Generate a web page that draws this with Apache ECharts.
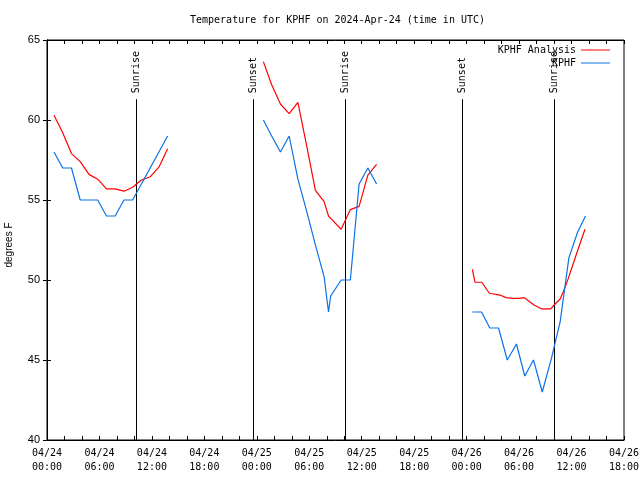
<!DOCTYPE html>
<html>
<head>
<meta charset="utf-8">
<script src="https://cdn.jsdelivr.net/npm/echarts@6/dist/echarts.min.js"></script>
<style>html,body{margin:0;padding:0;background:#fff}#c{width:640px;height:480px}</style>
</head>
<body>
<div id="c"></div>
<script>
// Times are hours since 2024-04-24 00:00 UTC
const obsTimes1 = [0.8,1.8,2.8,3.8,4.8,5.8,6.8,7.8,8.8,9.8,10.8,11.8,12.8,13.8];
const obsTemps1 = [58,57,57,55,55,55,54,54,55,55,56,57,58,59];
const anaTimes1 = [0.8,1.8,2.8,3.8,4.8,5.8,6.8,7.8,8.8,9.8,10.8,11.8,12.8,13.8];
const anaTemps1 = [60.3,59.2,57.9,57.4,56.6,56.3,55.7,55.7,55.55,55.8,56.25,56.45,57.05,58.2];

const obsTimes2 = [24.75,25.7,26.7,27.7,28.7,29.7,30.7,31.7,32.2,32.45,33.65,34.7,35.7,36.7,37.7];
const obsTemps2 = [60,59,58,59,56.3,54.3,52.2,50.2,48,49,50,50,56,57,56];
const anaTimes2 = [24.75,25.7,26.7,27.7,28.7,29.7,30.7,31.7,32.2,32.45,33.65,34.7,35.7,36.7,37.7];
const anaTemps2 = [63.65,62.2,61.0,60.4,61.1,58.4,55.6,54.9,54.0,53.85,53.17,54.4,54.6,56.56,57.23];

const obsTimes3 = [48.65,49.7,50.65,51.65,52.65,53.7,54.65,55.65,56.65,57.7,58.7,59.7,60.7,61.6];
const obsTemps3 = [48,48,47,47,45,46,44,45,43,45.1,47.4,51.4,53,54];
const anaTimes3 = [48.65,48.96,49.73,50.6,51.82,52.5,53.27,54.03,54.6,55.06,55.71,56.59,57.62,58.11,58.68,59.06,59.63,60.59,61.54];
const anaTemps3 = [50.67,49.86,49.86,49.17,49.06,48.9,48.85,48.85,48.9,48.7,48.44,48.19,48.19,48.5,48.8,49.27,50.1,51.67,53.17];

const sunTimes = [10.2, 23.6, 34.1, 47.5, 58.0];
const sunLabels = ['Sunrise', 'Sunset', 'Sunrise', 'Sunset', 'Sunrise'];
const sunLineTop = 61.3;

const xMin = 0, xMax = 66, xStep = 6;
const yMin = 40, yMax = 65, yStep = 5;

function buildSeries(timeArrs, tempArrs) {
  const out = [];
  timeArrs.forEach((ts, k) => {
    if (k > 0) out.push([ts[0] - 0.01, '-']);
    ts.forEach((t, i) => out.push([t, tempArrs[k][i]]));
  });
  return out;
}
const anaData = buildSeries([anaTimes1, anaTimes2, anaTimes3], [anaTemps1, anaTemps2, anaTemps3]);
const obsData = buildSeries([obsTimes1, obsTimes2, obsTimes3], [obsTemps1, obsTemps2, obsTemps3]);

const MONO = 'DejaVu Sans Mono';
const SANS = 'Liberation Sans';
const RED = '#ff0000';
const BLUE = '#0a72e6';

function xLabel(h) {
  const day = 24 + Math.floor(h / 24);
  const hh = Math.round(h % 24);
  return '04/' + day + '\n' + (hh < 10 ? '0' : '') + hh + ':00';
}

const chart = echarts.init(document.getElementById('c'), null, {renderer: 'canvas'});
const tickCommon = {show: true, inside: true, length: 4, lineStyle: {color: '#000', width: 1}};
chart.setOption({
  animation: false,
  backgroundColor: '#fff',
  title: {
    text: 'Temperature for KPHF on 2024-Apr-24 (time in UTC)',
    left: 185, top: 10,
    textStyle: {fontFamily: MONO, fontSize: 10, fontWeight: 'normal', color: '#000'}
  },
  legend: {
    data: [
      {name: 'KPHF Analysis', icon: 'rect', itemStyle: {color: RED}},
      {name: 'KPHF', icon: 'rect', itemStyle: {color: BLUE}}
    ],
    orient: 'vertical', align: 'right',
    right: 30, top: 44, padding: 0,
    itemWidth: 29, itemHeight: 1, itemGap: 1,
    textStyle: {fontFamily: MONO, fontSize: 10, color: '#000', lineHeight: 12}
  },
  grid: {left: 47, right: 16, top: 40, bottom: 40, show: true, borderColor: '#000', borderWidth: 1,
         backgroundColor: 'transparent', containLabel: false, outerBoundsMode: 'none'},
  xAxis: [{
    type: 'value', min: xMin, max: xMax, interval: xStep,
    axisLine: {show: true, lineStyle: {color: '#000'}},
    axisTick: tickCommon,
    minorTick: {show: true, splitNumber: 3, length: 4, lineStyle: {color: '#000', width: 1}},
    splitLine: {show: false},
    axisLabel: {formatter: xLabel, fontFamily: MONO, fontSize: 10, color: '#000', margin: 6, lineHeight: 14}
  }, {
    type: 'value', position: 'top', min: xMin, max: xMax, interval: xStep,
    axisLine: {show: true, lineStyle: {color: '#000'}},
    axisTick: tickCommon,
    minorTick: {show: true, splitNumber: 3, length: 4, lineStyle: {color: '#000', width: 1}},
    splitLine: {show: false},
    axisLabel: {show: false}
  }],
  yAxis: [{
    type: 'value', min: yMin, max: yMax, interval: yStep,
    name: 'degrees F', nameLocation: 'middle', nameGap: 33,
    nameTextStyle: {fontFamily: SANS, fontSize: 10, color: '#000', padding: [0, 10, 0, 0]},
    axisLine: {show: true, lineStyle: {color: '#000'}},
    axisTick: tickCommon,
    splitLine: {show: false},
    axisLabel: {fontFamily: SANS, fontSize: 11, color: '#000', margin: 7}
  }, {
    type: 'value', position: 'right', min: yMin, max: yMax, interval: yStep,
    axisLine: {show: true, lineStyle: {color: '#000'}},
    axisTick: tickCommon,
    splitLine: {show: false},
    axisLabel: {show: false}
  }],
  series: [{
    name: 'KPHF Analysis', type: 'line', data: anaData, symbol: 'none',
    connectNulls: false,
    lineStyle: {color: RED, width: 1.2}, itemStyle: {color: RED}
  }, {
    name: 'KPHF', type: 'line', data: obsData, symbol: 'none',
    connectNulls: false,
    lineStyle: {color: BLUE, width: 1.2}, itemStyle: {color: BLUE}
  }, {
    name: 'sun', type: 'custom',
    data: sunTimes.map(t => [t, sunLineTop]),
    renderItem: function (params, api) {
      const t = api.value(0);
      const p0 = api.coord([t, yMin]);
      const p1 = api.coord([t, api.value(1)]);
      const x = Math.round(p0[0]) + 0.5;
      return {
        type: 'group',
        children: [{
          type: 'line',
          shape: {x1: x, y1: p0[1], x2: x, y2: p1[1]},
          style: {stroke: '#000', lineWidth: 1}
        }, {
          type: 'text',
          x: x, y: p1[1] - 6,
          rotation: Math.PI / 2,
          style: {text: sunLabels[params.dataIndex], textAlign: 'left', textVerticalAlign: 'middle',
                  font: '10px "' + MONO + '"', fill: '#000'}
        }]
      };
    }
  }]
});
</script>
</body>
</html>
